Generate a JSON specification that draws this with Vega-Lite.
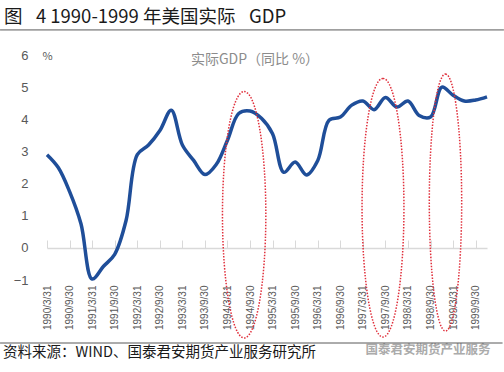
{
  "$schema": "https://vega.github.io/schema/vega-lite/v6.json",
  "width": 440,
  "height": 225,
  "autosize": "none",
  "padding": {"left": 47, "top": 55, "right": 17, "bottom": 92},
  "background": "white",
  "config": {"view": {"stroke": null}},
  "layer": [
    {
      "data": {"values": [
        {"date": "1990-03-31", "gdp": 2.9},
        {"date": "1990-06-30", "gdp": 2.5},
        {"date": "1990-09-30", "gdp": 1.75},
        {"date": "1990-12-31", "gdp": 0.75},
        {"date": "1991-03-31", "gdp": -0.97},
        {"date": "1991-06-30", "gdp": -0.58},
        {"date": "1991-09-30", "gdp": -0.2},
        {"date": "1991-12-31", "gdp": 0.85},
        {"date": "1992-03-31", "gdp": 2.9},
        {"date": "1992-06-30", "gdp": 3.2},
        {"date": "1992-09-30", "gdp": 3.65},
        {"date": "1992-12-31", "gdp": 4.28},
        {"date": "1993-03-31", "gdp": 3.2},
        {"date": "1993-06-30", "gdp": 2.72},
        {"date": "1993-09-30", "gdp": 2.28},
        {"date": "1993-12-31", "gdp": 2.6},
        {"date": "1994-03-31", "gdp": 3.35},
        {"date": "1994-06-30", "gdp": 4.18},
        {"date": "1994-09-30", "gdp": 4.26},
        {"date": "1994-12-31", "gdp": 4.03},
        {"date": "1995-03-31", "gdp": 3.55},
        {"date": "1995-06-30", "gdp": 2.35},
        {"date": "1995-09-30", "gdp": 2.67},
        {"date": "1995-12-31", "gdp": 2.27},
        {"date": "1996-03-31", "gdp": 2.72},
        {"date": "1996-06-30", "gdp": 3.97},
        {"date": "1996-09-30", "gdp": 4.07},
        {"date": "1996-12-31", "gdp": 4.44},
        {"date": "1997-03-31", "gdp": 4.57},
        {"date": "1997-06-30", "gdp": 4.3},
        {"date": "1997-09-30", "gdp": 4.68},
        {"date": "1997-12-31", "gdp": 4.38},
        {"date": "1998-03-31", "gdp": 4.57},
        {"date": "1998-06-30", "gdp": 4.12},
        {"date": "1998-09-30", "gdp": 4.07},
        {"date": "1998-12-31", "gdp": 5.0},
        {"date": "1999-03-31", "gdp": 4.75},
        {"date": "1999-06-30", "gdp": 4.57},
        {"date": "1999-09-30", "gdp": 4.6},
        {"date": "1999-12-31", "gdp": 4.7}
      ]},
      "mark": {"type": "line", "interpolate": "catmull-rom", "color": "#1f4e99", "strokeWidth": 3.5},
      "encoding": {
        "x": {
          "field": "date", "type": "temporal",
          "scale": {"type": "utc", "domain": [{"year": 1990, "month": 3, "date": 31, "utc": true}, {"year": 1999, "month": 12, "date": 31, "utc": true}], "nice": false},
          "axis": {
            "values": [
              {"year": 1990, "month": 3, "date": 31, "utc": true}, {"year": 1990, "month": 9, "date": 30, "utc": true},
              {"year": 1991, "month": 3, "date": 31, "utc": true}, {"year": 1991, "month": 9, "date": 30, "utc": true},
              {"year": 1992, "month": 3, "date": 31, "utc": true}, {"year": 1992, "month": 9, "date": 30, "utc": true},
              {"year": 1993, "month": 3, "date": 31, "utc": true}, {"year": 1993, "month": 9, "date": 30, "utc": true},
              {"year": 1994, "month": 3, "date": 31, "utc": true}, {"year": 1994, "month": 9, "date": 30, "utc": true},
              {"year": 1995, "month": 3, "date": 31, "utc": true}, {"year": 1995, "month": 9, "date": 30, "utc": true},
              {"year": 1996, "month": 3, "date": 31, "utc": true}, {"year": 1996, "month": 9, "date": 30, "utc": true},
              {"year": 1997, "month": 3, "date": 31, "utc": true}, {"year": 1997, "month": 9, "date": 30, "utc": true},
              {"year": 1998, "month": 3, "date": 31, "utc": true}, {"year": 1998, "month": 9, "date": 30, "utc": true},
              {"year": 1999, "month": 3, "date": 31, "utc": true}, {"year": 1999, "month": 9, "date": 30, "utc": true}
            ],
            "tickCount": 40,
            "format": "%Y/%-m/%d",
            "labelAngle": 270,
            "labelFont": "Liberation Sans",
            "labelFontSize": 10,
            "labelColor": "#595959",
            "labelOverlap": false,
            "labelFlush": false,
            "domainColor": "#d9d9d9",
            "domainWidth": 1.5,
            "tickColor": "#d9d9d9",
            "tickWidth": 1,
            "tickSize": -8,
            "offset": -32,
            "labelPadding": 45,
            "grid": false,
            "title": null
          }
        },
        "y": {
          "field": "gdp", "type": "quantitative",
          "scale": {"domain": [-1, 6], "nice": false, "zero": false},
          "axis": {
            "values": [-1, 0, 1, 2, 3, 4, 5, 6],
            "tickCount": 10,
            "format": "d",
            "labelOverlap": false,
            "domain": false, "ticks": false, "grid": false,
            "labelFont": "Liberation Sans", "labelFontSize": 13, "labelColor": "#595959",
            "labelPadding": 19, "labelFlush": false,
            "title": "%", "titleAngle": 0, "titleX": 0, "titleY": 1,
            "titleAlign": "center", "titleBaseline": "middle",
            "titleFont": "Noto Sans CJK SC", "titleFontSize": 11, "titleFontWeight": "normal", "titleColor": "#595959"
          }
        }
      }
    },
    {
      "data": {"values": [{}]},
      "mark": {"type": "point", "filled": false, "stroke": "#e0303c", "strokeWidth": 1.5, "strokeDash": [1.5, 1.5], "opacity": 1, "size": 60713,
        "shape": "M0,-1C0.0972,-1 0.176,-0.5523 0.176,0C0.176,0.5523 0.0972,1 0,1C-0.0972,1 -0.176,0.5523 -0.176,0C-0.176,-0.5523 -0.0972,-1 0,-1Z"},
      "encoding": {
        "x": {"datum": {"year": 1994, "month": 8, "date": 13, "utc": true}, "type": "temporal"},
        "y": {"datum": 1.03, "type": "quantitative"}
      }
    },
    {
      "data": {"values": [{}]},
      "mark": {"type": "point", "filled": false, "stroke": "#e0303c", "strokeWidth": 1.5, "strokeDash": [1.5, 1.5], "opacity": 1, "size": 66874,
        "shape": "M0,-1C0.0895,-1 0.162,-0.5523 0.162,0C0.162,0.5523 0.0895,1 0,1C-0.0895,1 -0.162,0.5523 -0.162,0C-0.162,-0.5523 -0.0895,-1 0,-1Z"},
      "encoding": {
        "x": {"datum": {"year": 1997, "month": 9, "date": 10, "utc": true}, "type": "temporal"},
        "y": {"datum": 1.25, "type": "quantitative"}
      }
    },
    {
      "data": {"values": [{}]},
      "mark": {"type": "point", "filled": false, "stroke": "#e0303c", "strokeWidth": 1.5, "strokeDash": [1.5, 1.5], "opacity": 1, "size": 66049,
        "shape": "M0,-1C0.0696,-1 0.126,-0.5523 0.126,0C0.126,0.5523 0.0696,1 0,1C-0.0696,1 -0.126,0.5523 -0.126,0C-0.126,-0.5523 -0.0696,-1 0,-1Z"},
      "encoding": {
        "x": {"datum": {"year": 1999, "month": 1, "date": 29, "utc": true}, "type": "temporal"},
        "y": {"datum": 1.41, "type": "quantitative"}
      }
    },
    {
      "data": {"values": [{}]},
      "mark": {"type": "text", "text": "实际GDP（同比 %）", "align": "center", "baseline": "middle", "font": "Noto Sans CJK SC", "fontSize": 14, "color": "#8c8c8c"},
      "encoding": {
        "x": {"datum": {"year": 1994, "month": 11, "date": 9, "utc": true}, "type": "temporal"},
        "y": {"datum": 5.84, "type": "quantitative"}
      }
    },
    {
      "data": {"values": [{}]},
      "mark": {"type": "text", "text": "图\u2002 4 1990-1999 年美国实际\u2002 GDP", "align": "left", "baseline": "middle", "font": "Noto Sans CJK SC", "fontSize": 18.5, "color": "#1a1a1a"},
      "encoding": {
        "x": {"datum": {"year": 1989, "month": 4, "date": 17, "utc": true}, "type": "temporal"},
        "y": {"datum": 7.19, "type": "quantitative"}
      }
    },
    {
      "data": {"values": [{}]},
      "mark": {"type": "text", "text": "资料来源：WIND、国泰君安期货产业服务研究所", "align": "left", "baseline": "middle", "font": "Noto Sans CJK SC", "fontSize": 14.5, "color": "#1a1a1a"},
      "encoding": {
        "x": {"datum": {"year": 1989, "month": 4, "date": 9, "utc": true}, "type": "temporal"},
        "y": {"datum": -3.26, "type": "quantitative"}
      }
    },
    {
      "data": {"values": [{}]},
      "mark": {"type": "text", "text": "国泰君安期货产业服务", "align": "center", "baseline": "middle", "font": "Noto Sans CJK SC", "fontSize": 12.5, "fontWeight": "bold", "color": "#ababab"},
      "encoding": {
        "x": {"datum": {"year": 1998, "month": 9, "date": 9, "utc": true}, "type": "temporal"},
        "y": {"datum": -3.18, "type": "quantitative"}
      }
    },
    {
      "data": {"values": [{}]},
      "mark": {"type": "rule", "color": "#595959", "strokeWidth": 1},
      "encoding": {
        "x": {"datum": {"year": 1989, "month": 3, "date": 16, "utc": true}, "type": "temporal"},
        "x2": {"datum": {"year": 2000, "month": 5, "date": 16, "utc": true}},
        "y": {"datum": 6.78, "type": "quantitative"}
      }
    },
    {
      "data": {"values": [{}]},
      "mark": {"type": "rule", "color": "#595959", "strokeWidth": 1},
      "encoding": {
        "x": {"datum": {"year": 1989, "month": 3, "date": 16, "utc": true}, "type": "temporal"},
        "x2": {"datum": {"year": 2000, "month": 5, "date": 5, "utc": true}},
        "y": {"datum": -2.96, "type": "quantitative"}
      }
    }
  ]
}
